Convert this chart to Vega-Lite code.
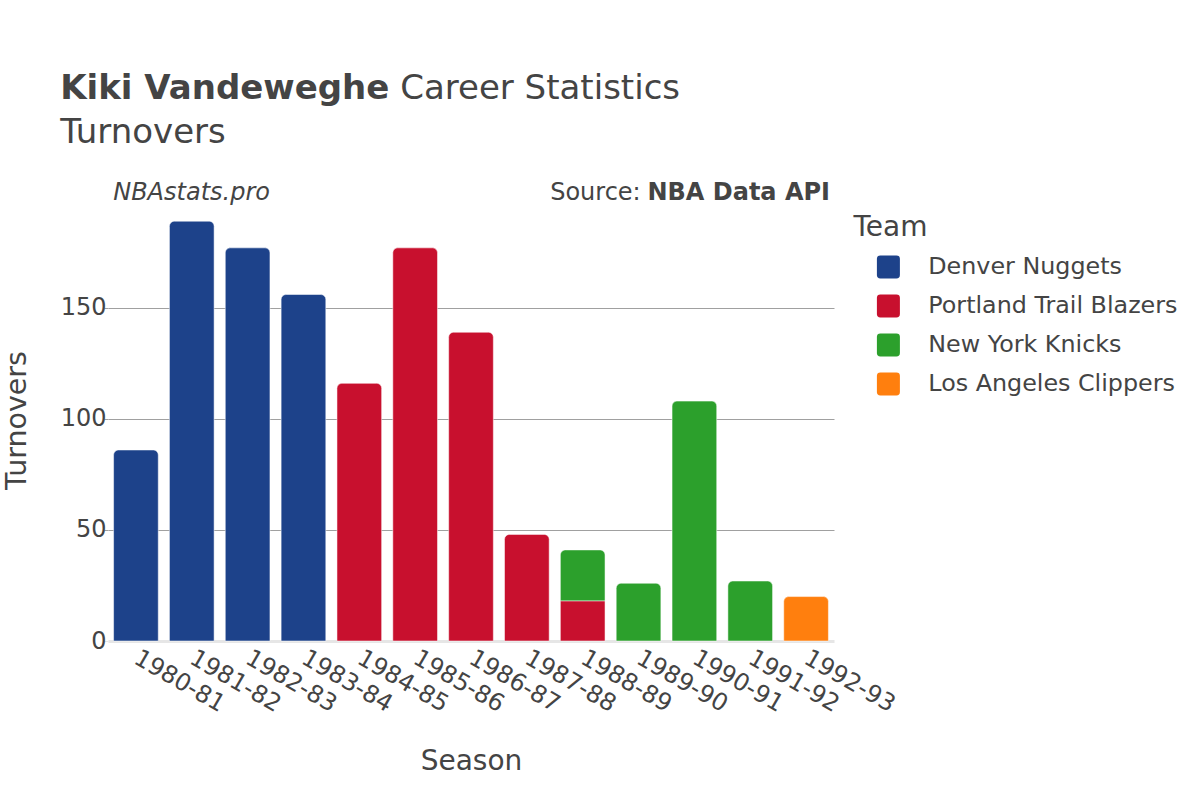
{
  "$schema": "https://vega.github.io/schema/vega-lite/v6.json",
  "background": "white",
  "padding": {"top": 72, "left": 2, "right": 5, "bottom": 5},
  "config": {
    "font": "DejaVu Sans",
    "view": {"stroke": null},
    "concat": {"spacing": 0},
    "title": {"color": "#444"}
  },
  "data": {
    "values": [
      {"Season": "1980-81", "Team": "Denver Nuggets", "Turnovers": 86},
      {"Season": "1981-82", "Team": "Denver Nuggets", "Turnovers": 189},
      {"Season": "1982-83", "Team": "Denver Nuggets", "Turnovers": 177},
      {"Season": "1983-84", "Team": "Denver Nuggets", "Turnovers": 156},
      {"Season": "1984-85", "Team": "Portland Trail Blazers", "Turnovers": 116},
      {"Season": "1985-86", "Team": "Portland Trail Blazers", "Turnovers": 177},
      {"Season": "1986-87", "Team": "Portland Trail Blazers", "Turnovers": 139},
      {"Season": "1987-88", "Team": "Portland Trail Blazers", "Turnovers": 48},
      {"Season": "1988-89", "Team": "Portland Trail Blazers", "Turnovers": 18},
      {"Season": "1988-89", "Team": "New York Knicks", "Turnovers": 23},
      {"Season": "1989-90", "Team": "New York Knicks", "Turnovers": 26},
      {"Season": "1990-91", "Team": "New York Knicks", "Turnovers": 108},
      {"Season": "1991-92", "Team": "New York Knicks", "Turnovers": 27},
      {"Season": "1992-93", "Team": "Los Angeles Clippers", "Turnovers": 20}
    ]
  },
  "title": {"text": "Career Statistics", "anchor": "start", "frame": "bounds", "dx": 398, "offset": -34, "fontSize": 34, "fontWeight": "normal"},
  "vconcat": [
    {
      "title": {"text": "Kiki Vandeweghe", "subtitle": "Turnovers", "anchor": "start", "frame": "bounds", "dx": 58, "fontSize": 34, "fontWeight": "bold", "subtitleFontSize": 34, "subtitleColor": "#444", "subtitlePadding": 10, "offset": 31},
      "resolve": {"legend": {"color": "independent"}},
      "vconcat": [
        {
          "title": {"text": "Source:", "anchor": "start", "frame": "bounds", "dx": 548, "fontSize": 24, "fontWeight": "normal", "offset": -24},
          "resolve": {"legend": {"color": "independent"}},
          "vconcat": [
            {
              "title": {"text": "NBAstats.pro", "anchor": "start", "frame": "bounds", "dx": 111, "fontSize": 24, "fontWeight": "normal", "fontStyle": "italic", "offset": -24},
              "resolve": {"legend": {"color": "independent"}},
              "vconcat": [
                {
                  "width": 726,
                  "height": 442,
                  "title": {"text": "NBA Data API", "anchor": "end", "frame": "group", "dx": -4, "fontSize": 24, "fontWeight": "bold", "offset": -6},
                  "transform": [
                    {"stack": "Turnovers", "groupby": ["Season"], "sort": [{"field": "Team", "order": "descending"}], "as": ["y0", "y1"]},
                    {"joinaggregate": [{"op": "max", "field": "y1", "as": "top"}], "groupby": ["Season"]}
                  ],
                  "encoding": {
                    "x": {
                      "field": "Season", "type": "nominal",
                      "scale": {"paddingInner": 0.2, "paddingOuter": 0.1},
                      "axis": {"title": "Season", "titleFontSize": 28, "titleFontWeight": "normal", "titleColor": "#444", "titlePadding": 31, "labelFontSize": 24, "labelColor": "#444", "labelAngle": 30, "labelAlign": "left", "labelBaseline": "middle", "labelPadding": 15, "ticks": false, "domain": false, "grid": false}
                    },
                    "y": {
                      "field": "y1", "type": "quantitative",
                      "scale": {"domain": [0, 199], "nice": false},
                      "axis": {"title": "Turnovers", "titleFontSize": 28.5, "titleFontWeight": "normal", "titleColor": "#444", "titlePadding": 29, "labelFontSize": 24, "labelColor": "#444", "values": [0, 50, 100, 150], "domain": false, "tickSize": 4, "tickColor": {"condition": {"test": "datum.value === 0", "value": "#e6e6e6"}, "value": "#a0a0a0"}, "labelPadding": -2, "grid": true, "gridColor": {"condition": {"test": "datum.value === 0", "value": "#e6e6e6"}, "value": "#a0a0a0"}, "gridWidth": {"condition": {"test": "datum.value === 0", "value": 3}, "value": 1}}
                    },
                    "y2": {"field": "y0"},
                    "color": {
                      "field": "Team", "type": "nominal",
                      "scale": {"domain": ["Denver Nuggets", "Portland Trail Blazers", "New York Knicks", "Los Angeles Clippers"], "range": ["#1d428a", "#c8102e", "#2ca02c", "#ff7f0e"]},
                      "legend": {"orient": "none", "legendX": 745.5, "legendY": 15, "title": "Team", "titleFontSize": 28, "titleFontWeight": "normal", "titleColor": "#444", "titlePadding": 13, "labelFontSize": 23.8, "labelColor": "#444", "labelLimit": 400, "labelOffset": 28, "symbolOffset": 23, "symbolSize": 529, "symbolStrokeWidth": 0, "symbolOpacity": 1, "symbolType": "M-0.7,-1H0.7Q1,-1 1,-0.7V0.7Q1,1 0.7,1H-0.7Q-1,1 -1,0.7V-0.7Q-1,-1 -0.7,-1Z", "rowPadding": 14, "padding": 0}
                    }
                  },
                  "layer": [
                    {"transform": [{"filter": "datum.y1 == datum.top"}], "mark": {"type": "bar", "cornerRadiusTopLeft": 5, "cornerRadiusTopRight": 5, "stroke": "white", "strokeWidth": 1, "strokeOpacity": 0.5}},
                    {"transform": [{"filter": "datum.y1 < datum.top"}], "mark": {"type": "bar", "stroke": "white", "strokeWidth": 1, "strokeOpacity": 0.5}}
                  ]
                }
              ]
            }
          ]
        }
      ]
    }
  ]
}
